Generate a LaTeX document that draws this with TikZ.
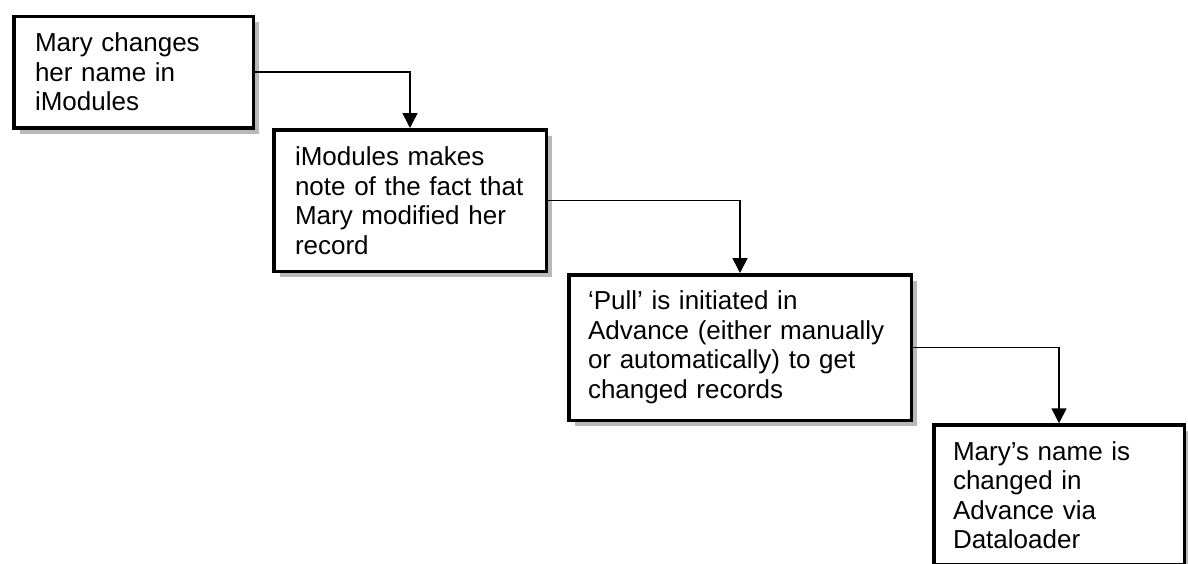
\documentclass[tikz,border=0pt]{standalone}
\usepackage{fontspec}
\setmainfont{Liberation Sans}
\usetikzlibrary{arrows.meta,shadows}

\begin{document}
\begin{tikzpicture}[x=1pt,y=-1pt,
    main node/.style={draw,line width=3.5pt,fill=white,inner sep=0pt,align=left,
      font=\fontsize{26pt}{29.5pt}\selectfont,
      drop shadow={shadow xshift=6pt,shadow yshift=-6pt,fill=gray!55,opacity=1}},
    link/.style={line width=1.6pt,-{Triangle[length=15pt,width=15pt]}}]
    \useasboundingbox (0,0) rectangle (1188,563);

    \node[main node,minimum width=239.5pt,minimum height=111.5pt,text width=197pt] (b1) at (133.5,72) {Mary changes\\her name in\\iModules};
    \node[main node,minimum width=272.5pt,minimum height=141.5pt,text width=230pt] (b2) at (410,200.5) {iModules makes\\note of the fact that\\Mary modified her\\record};
    \node[main node,minimum width=342.5pt,minimum height=145.5pt,text width=304pt] (b3) at (740,347.5) {‘Pull’ is initiated in\\Advance (either manually\\or automatically) to get\\changed records};
    \node[main node,minimum width=250.5pt,minimum height=140pt,text width=212pt] (b4) at (1059,495) {Mary’s name is\\changed in\\Advance via\\Dataloader};

    \foreach \a/\b in {b1/b2,b2/b3,b3/b4}
      \draw[link] (\a.east) -| (\b.north);
\end{tikzpicture}
\end{document}
